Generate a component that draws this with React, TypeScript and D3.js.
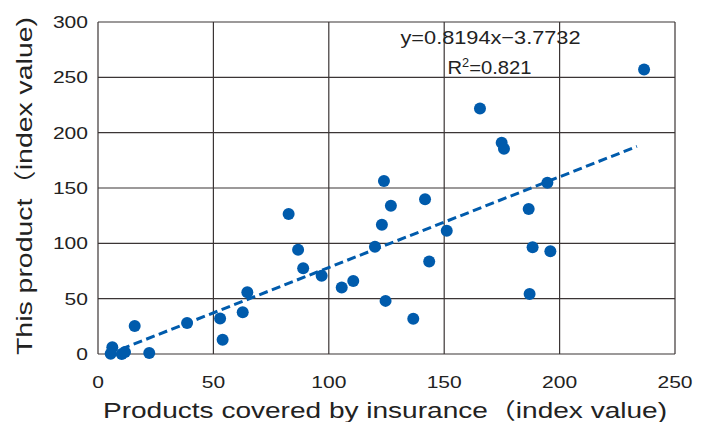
import * as d3 from 'd3';
import React from 'react';

// products covered by insurance (index value)
const xValues = [
    6.2, 5.5, 10.3, 11.7, 22.2, 15.9, 38.6, 52.9, 54, 62.7, 64.7, 82.6,
    86.7, 88.9, 96.9, 105.6, 110.6, 120, 123, 123.9, 126.9, 124.6, 136.6, 141.7,
    143.5, 151.1, 165.5, 174.9, 175.9, 186.6, 188.3, 187, 194.7, 196, 236.6
];
// this product (index value)
const yValues = [
    6.2, 0.2, 0, 1.7, 0.8, 25.4, 28.1, 32, 12.8, 37.8, 55.8, 126.5,
    94.3, 77.5, 70.8, 60, 66, 97, 116.8, 156.3, 134, 48, 31.8, 139.8,
    83.5, 111.4, 221.9, 190.8, 185.4, 131, 96.5, 54.3, 154.8, 92.8, 257
];
const xTicks = [0, 50, 100, 150, 200, 250];
const yTicks = [0, 50, 100, 150, 200, 250, 300];
const slope = 0.8194;
const intercept = -3.7732;
const trendRange = [10, 233.5];

const W = 707;
const H = 422;
const left = 98, right = 675, top = 22, bottom = 354;
const font = '"Liberation Sans", Arial, "Noto Sans CJK JP", sans-serif';
const blue = '#005bac';
const gridColor = '#3b3535';

const App = () => {
    const x = d3.scaleLinear().domain([0, 250]).range([left, right]);
    const y = d3.scaleLinear().domain([0, 300]).range([bottom, top]);
    const points = xValues.map((v, i) => ({ x: v, y: yValues[i] }));
    const trend = d3.line<number>()
        .x(d => x(d))
        .y(d => y(slope * d + intercept))(trendRange);

    return (
        <svg width={W} height={H} style={{ position: 'absolute', left: 0, top: 0, background: '#fff' }}
            fontFamily={font}>
            <rect x={0} y={0} width={W} height={H} fill="#fff" />
            {xTicks.map(t => (
                <line key={'gx' + t} x1={x(t)} x2={x(t)} y1={top} y2={bottom} stroke={gridColor} strokeWidth={1.2} />
            ))}
            {yTicks.map(t => (
                <line key={'gy' + t} x1={left} x2={right} y1={y(t)} y2={y(t)} stroke={gridColor} strokeWidth={1.2} />
            ))}
            {yTicks.map(t => (
                <text key={'ty' + t} x={88} y={y(t) + 6} textAnchor="end" fontSize={17} fill="#222"
                    textLength={String(t).length * 11.7} lengthAdjust="spacingAndGlyphs">{t}</text>
            ))}
            {xTicks.map(t => (
                <text key={'tx' + t} x={x(t) - String(t).length * 5.85} y={388} fontSize={17} fill="#222"
                    textLength={String(t).length * 11.7} lengthAdjust="spacingAndGlyphs">{t}</text>
            ))}
            <path d={trend ?? ''} fill="none" stroke={blue} strokeWidth={3} strokeDasharray="9,4.5" />
            {points.map((p, i) => (
                <circle key={i} cx={x(p.x)} cy={y(p.y)} r={6} fill={blue} />
            ))}
            <text x={400.5} y={43.5} fontSize={19} fill="#222" textLength={180} lengthAdjust="spacingAndGlyphs">
                y=0.8194x−3.7732
            </text>
            <text x={447.5} y={73.5} fontSize={19} fill="#222" textLength={84} lengthAdjust="spacingAndGlyphs">
                R<tspan fontSize={12} dy={-7}>2</tspan><tspan dy={7}>=0.821</tspan>
            </text>
            <text x={103} y={418} fontSize={22} fill="#222" textLength={564} lengthAdjust="spacingAndGlyphs">
                Products covered by insurance（index value)
            </text>
            <text transform="translate(32, 355) rotate(-90)" x={0} y={0} fontSize={22} fill="#222"
                textLength={338} lengthAdjust="spacingAndGlyphs">
                This product（index value)
            </text>
        </svg>
    );
};

export default App;
